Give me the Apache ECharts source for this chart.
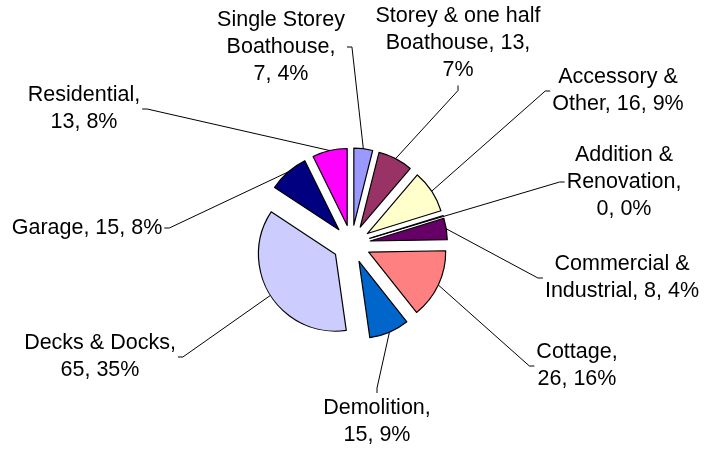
<!DOCTYPE html>
<html>
<head>
<meta charset="utf-8">
<script src="https://cdn.jsdelivr.net/npm/echarts@6/dist/echarts.min.js"></script>
<style>
  html, body { margin: 0; padding: 0; background: #fff; }
  #chart { width: 704px; height: 451px; }
</style>
</head>
<body>
<div id="chart"></div>
<script>
  // data
  const categories = ['Single Storey Boathouse', 'Storey & one half Boathouse', 'Accessory & Other',
    'Addition & Renovation', 'Commercial & Industrial', 'Cottage', 'Demolition',
    'Decks & Docks', 'Garage', 'Residential']
  const counts = [7, 13, 16, 0, 8, 26, 15, 65, 15, 13]
  const percents = ['4%', '7%', '9%', '0%', '4%', '16%', '9%', '35%', '8%', '8%']

  // how each label wraps
  const wrappedNames = ['Single Storey\nBoathouse', 'Storey & one half\nBoathouse', 'Accessory &\nOther',
    'Addition &\nRenovation', 'Commercial &\nIndustrial', 'Cottage', 'Demolition',
    'Decks & Docks', 'Garage', 'Residential']
  const breakAfterName = [true, false, false, true, false, true, true, true, false, true]
  const breakAfterCount = [false, true, false, false, false, false, false, false, false, false]

  const colors = ['#9999FF', '#993366', '#FFFFCC', '#FFFFFF', '#660066',
    '#FF8080', '#0066CC', '#CCCCFF', '#000080', '#FF00FF']

  // label placement (box centre) and the side the leader line leaves from
  const labelCenters = [[281, 47], [458, 43], [618, 91], [624, 182], [622, 278],
    [577, 366], [377, 422], [100, 357], [87, 228], [84, 109]]
  const labelSides = ['right', 'bottom', 'left', 'left', 'left', 'left', 'top', 'right', 'right', 'right']

  const pieCenter = [351.5, 244]
  const pieRadius = 77
  const explode = 19

  const chart = echarts.init(document.getElementById('chart'))

  const borderStyle = { borderColor: '#000', borderWidth: 1.2 }

  chart.setOption({
    animation: false,
    series: [
      {
        // exploded slices
        type: 'pie',
        center: pieCenter,
        radius: pieRadius,
        startAngle: 90,
        clockwise: true,
        selectedMode: 'multiple',
        selectedOffset: explode,
        emphasis: { disabled: true },
        itemStyle: borderStyle,
        select: { itemStyle: borderStyle },
        label: { show: false },
        labelLine: { show: false },
        data: categories.map((name, i) => ({
          name: name,
          value: counts[i],
          selected: true,
          itemStyle: { color: colors[i] }
        }))
      },
      {
        // invisible ring at the exploded rim, carries the labels and leader lines
        type: 'pie',
        center: pieCenter,
        radius: pieRadius + explode,
        startAngle: 90,
        clockwise: true,
        silent: true,
        avoidLabelOverlap: false,
        itemStyle: { color: 'rgba(0,0,0,0)', borderWidth: 0 },
        label: {
          show: true,
          position: 'outside',
          color: '#000',
          fontFamily: '"Liberation Sans", Arial, sans-serif',
          fontSize: 21.5,
          lineHeight: 27,
          align: 'center',
          formatter: p => {
            const i = p.dataIndex
            return wrappedNames[i] + ',' + (breakAfterName[i] ? '\n' : ' ') +
              counts[i] + ',' + (breakAfterCount[i] ? '\n' : ' ') + percents[i]
          }
        },
        labelLine: {
          show: true,
          lineStyle: { color: '#000', width: 1 }
        },
        labelLayout: params => {
          const i = params.dataIndex
          const c = labelCenters[i]
          const w = params.labelRect.width
          const h = params.labelRect.height
          let ax = c[0], ay = c[1], hx = 0, hy = 0
          if (labelSides[i] === 'right') { ax = c[0] + w / 2 + 2; hx = 5 }
          if (labelSides[i] === 'left') { ax = c[0] - w / 2 - 2; hx = -5 }
          if (labelSides[i] === 'top') { ay = c[1] - h / 2 - 2; hy = -5 }
          if (labelSides[i] === 'bottom') { ay = c[1] + h / 2 + 2; hy = 5 }
          let p0 = params.labelLinePoints[0]
          if (counts[i] === 0) {
            // an empty slice has no rim, the line runs in to its tip
            const k = (explode + 2) / (pieRadius + explode)
            p0 = [pieCenter[0] + (p0[0] - pieCenter[0]) * k, pieCenter[1] + (p0[1] - pieCenter[1]) * k]
          }
          return {
            x: c[0],
            y: c[1],
            align: 'center',
            verticalAlign: 'middle',
            labelLinePoints: [p0, [ax + hx, ay + hy], [ax, ay]]
          }
        },
        data: categories.map((name, i) => ({ name: name, value: counts[i] }))
      }
    ]
  })
</script>
</body>
</html>
